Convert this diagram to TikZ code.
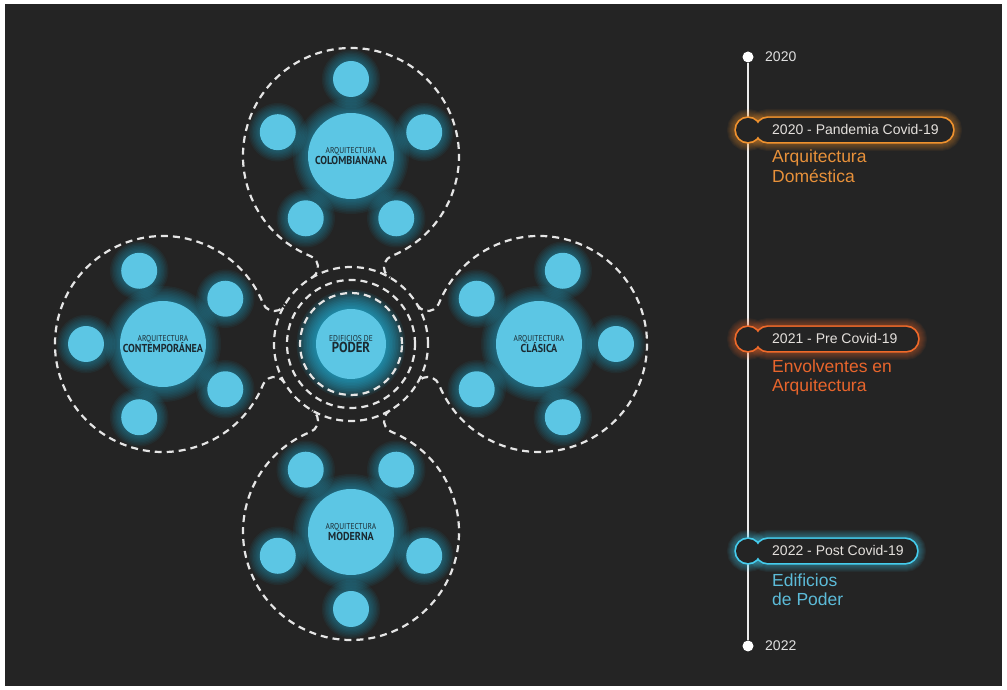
\documentclass[tikz,border=0pt]{standalone}
\usepackage{fontspec}
\setmainfont{Liberation Sans}
\newfontfamily\lblfont[FakeStretch=0.88]{PT Sans}
\usetikzlibrary{calc}
\definecolor{bg}{HTML}{242424}
\definecolor{cyanfill}{HTML}{5CC6E4}
\definecolor{glowc}{HTML}{1FC8F5}
\definecolor{lbltext}{HTML}{1B2A31}
\definecolor{org1}{HTML}{F0922E}
\definecolor{org2}{HTML}{F06A2A}
\definecolor{cy3}{HTML}{45CDEE}
\definecolor{tl1}{HTML}{E8913A}
\definecolor{tl2}{HTML}{E8652C}
\definecolor{tl3}{HTML}{5CBBD8}
\definecolor{pilltext}{HTML}{E4E0DC}
\tikzset{
  dashring/.style={draw=white!90!black, line width=2.2pt, dash pattern=on 7pt off 5pt},
  maincirc/.style={circle, fill=cyanfill, minimum size=86pt, inner sep=0pt, text=lbltext, align=center, font=\lblfont},
  satcirc/.style={circle, fill=cyanfill, minimum size=36pt, inner sep=0pt},
  centercirc/.style={circle, fill=cyanfill, minimum size=70pt, inner sep=0pt, text=lbltext, align=center, font=\lblfont},
  yeartext/.style={text=white!88!black, font=\fontsize{14}{16}\selectfont, anchor=west, inner sep=0pt},
  pilllbl/.style={text=pilltext, font=\fontsize{14}{16}\selectfont, anchor=west, inner sep=0pt},
  desc/.style={font=\fontsize{17.5}{20}\selectfont, anchor=base west, inner sep=0pt},
}
\newcommand\smalllbl[1]{{\fontsize{8.5}{9.5}\selectfont #1}}
\newcommand\biglbl[1]{{\fontsize{11.5}{13}\selectfont\bfseries #1}}
\newcommand\drawpill[3]{% Y, xend, colour
  \foreach \w in {4,6,...,18}{
    \draw[#3, opacity=0.06, line width=\w pt] (748,#1) circle (12);
    \draw[#3, opacity=0.06, line width=\w pt, rounded corners=11.9pt] (756,#1-12) rectangle (#2,#1+12);
  }
  \draw[#3, line width=3.4pt] (748,#1) circle (12);
  \draw[#3, line width=3.4pt, rounded corners=11.9pt] (756,#1-12) rectangle (#2,#1+12);
  \fill[bg] (748,#1) circle (12);
  \fill[bg, rounded corners=11.9pt] (756,#1-12) rectangle (#2,#1+12);
}
\begin{document}
\begin{tikzpicture}[x=1pt,y=1pt]
\useasboundingbox (0,0) rectangle (1007,690);
\fill[white] (0,0) rectangle (1007,690);
\fill[bg] (5,4) rectangle (1002,686);

% glows of clusters
\foreach \cx/\cy/\a in {351/534/90, 163/346/180, 539/346/0, 351/158/270}{
  \foreach \k in {1,...,10}{\fill[glowc, opacity=0.05] (\cx,\cy) circle ({43+1.5*\k});}
  \foreach \j in {0,...,4}{
    \foreach \k in {1,...,8}{\fill[glowc, opacity=0.05] ($(\cx,\cy)+({\a+72*\j}:77)$) circle ({18+1.4*\k});}
  }
}
% glow of centre
\foreach \k in {1,...,13}{\fill[glowc, opacity=0.07] (351,346) circle ({35+1.5*\k});}

% dashed rings
\draw[dashring] (351,346) circle (51);
\draw[dashring] (351,346) circle (64);
\draw[dashring] (351,346) circle (77);
% outer dashed circles with fillets to the outer ring
\foreach \d in {90,180,0,270}{
  \begin{scope}[shift={(351,346)}, rotate=\d]
    \draw[dashring] (66.4,38.9) arc[start angle=210.4, end angle=338, radius=12]
      arc[start angle=158, end angle=-158, radius=108]
      arc[start angle=22, end angle=149.6, radius=12];
  \end{scope}
}

% satellites
\foreach \cx/\cy/\a/\nm in {351/534/90/t, 163/346/180/l, 539/346/0/r, 351/158/270/b}{
  \foreach \j in {0,...,4}{
    \node[satcirc] (\nm s\j) at ($(\cx,\cy)+({\a+72*\j}:77)$) {};
  }
}
% main circles
\node[maincirc] (colomb) at (351,534) {\smalllbl{ARQUITECTURA}\\[-1pt]\biglbl{COLOMBIANANA}};
\node[maincirc] (contemp) at (163,346) {\smalllbl{ARQUITECTURA}\\[-1pt]\biglbl{CONTEMPORÁNEA}};
\node[maincirc] (clasica) at (539,346) {\smalllbl{ARQUITECTURA}\\[-1pt]\biglbl{CLÁSICA}};
\node[maincirc] (moderna) at (351,158) {\smalllbl{ARQUITECTURA}\\[-1pt]\biglbl{MODERNA}};
\node[centercirc] (poder) at (351,346) {{\fontsize{8.5}{9.5}\selectfont EDIFICIOS DE}\\[-1pt]{\fontsize{14.5}{16}\selectfont\bfseries PODER}};

% timeline
\node[circle, fill=white, minimum size=11pt, inner sep=0pt] (d2020) at (748,633) {};
\node[circle, fill=white, minimum size=11pt, inner sep=0pt] (d2022) at (748,44) {};
\draw[white!92!black, line width=2.5pt] (d2020) -- (d2022);
\node[yeartext] (y2020) at (765,633) {2020};
\node[yeartext] (y2022) at (765,44) {2022};

\drawpill{560}{953}{org1}
\node[pilllbl] (p1) at (772,560) {2020 - Pandemia Covid-19};
\node[desc, text=tl1] (p1a) at (772,527) {Arquitectura};
\node[desc, text=tl1] (p1b) at (772,507) {Doméstica};

\drawpill{351}{918}{org2}
\node[pilllbl] (p2) at (772,351) {2021 - Pre Covid-19};
\node[desc, text=tl2] (p2a) at (772,317) {Envolventes en};
\node[desc, text=tl2] (p2b) at (772,298) {Arquitectura};

\drawpill{139}{917}{cy3}
\node[pilllbl] (p3) at (772,139) {2022 - Post Covid-19};
\node[desc, text=tl3] (p3a) at (772,103) {Edificios};
\node[desc, text=tl3] (p3b) at (772,84) {de Poder};
\end{tikzpicture}
\end{document}
